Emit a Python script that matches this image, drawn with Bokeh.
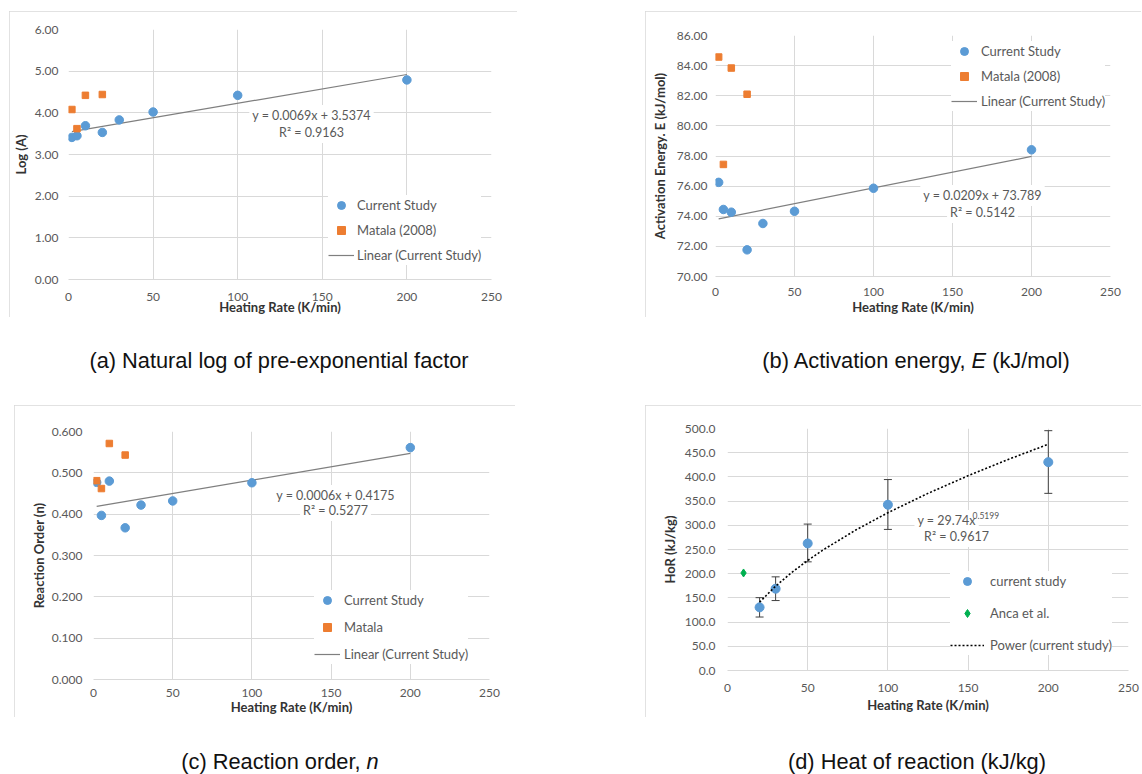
from bokeh.plotting import figure
from bokeh.models import (Range1d, FixedTicker, NumeralTickFormatter, Label, Legend, LegendItem,
                          Whisker, ColumnDataSource, TeeHead, Div, Spacer)
from bokeh.layouts import column, row
from bokeh.embed import file_html
from bokeh.resources import INLINE

# ---------------- data ----------------
x_ticks = [0, 50, 100, 150, 200, 250]

# (a) ln A
rate_cur_a = [2, 5, 10, 20, 30, 50, 100, 200]
lnA_cur = [3.41, 3.45, 3.69, 3.53, 3.83, 4.02, 4.42, 4.79]
rate_mat_a = [2, 5, 10, 20]
lnA_mat = [4.08, 3.62, 4.42, 4.44]
trend_a_x = [2, 200]
trend_a_y = [3.55, 4.92]
y_ticks_a = [0, 1, 2, 3, 4, 5, 6]

# (b) activation energy
rate_cur_b = [2, 5, 10, 20, 30, 50, 100, 200]
E_cur = [76.25, 74.45, 74.27, 71.77, 73.52, 74.33, 75.86, 78.41]
rate_mat_b = [2, 5, 10, 20]
E_mat = [84.57, 77.44, 83.84, 82.10]
trend_b_x = [2, 200]
trend_b_y = [73.83, 77.97]
y_ticks_b = [70, 72, 74, 76, 78, 80, 82, 84, 86]

# (c) reaction order
rate_cur_c = [2, 5, 10, 20, 30, 50, 100, 200]
n_cur = [0.477, 0.397, 0.480, 0.367, 0.422, 0.432, 0.476, 0.561]
rate_mat_c = [2, 5, 10, 20]
n_mat = [0.481, 0.462, 0.571, 0.543]
trend_c_x = [2, 200]
trend_c_y = [0.419, 0.547]
y_ticks_c = [0.0, 0.1, 0.2, 0.3, 0.4, 0.5, 0.6]

# (d) heat of reaction
rate_cur_d = [20, 30, 50, 100, 200]
hor_cur = [130.5, 169.0, 262.5, 342.5, 430.5]
hor_upper = [150.5, 193.5, 302.5, 394.5, 495.5]
hor_lower = [110.5, 144.5, 224.5, 291.5, 366.0]
rate_anca = [10]
hor_anca = [201.5]
power_x = [20, 30, 40, 50, 60, 80, 100, 125, 150, 175, 200]
power_y = [141.2, 174.3, 202.4, 227.3, 250.0, 290.3, 326.0, 366.0, 402.4, 436.1, 467.4]
y_ticks_d = [0, 50, 100, 150, 200, 250, 300, 350, 400, 450, 500]

# ---------------- style ----------------
BLUE = "#5B9BD5"
ORANGE = "#ED7D31"
GREEN = "#00B050"
GRID = "#D9D9D9"
TICK = "#595959"
TITLE = "#333333"
FONT = "Lato"


def base_fig(width, height, y_lo, y_hi, y_ticks, y_fmt, borders, y_title,
             y_lab_so, y_title_so, x_lab_so, x_title_so):
    ml, mr, mt, mb = borders
    p = figure(width=width, height=height, x_range=Range1d(0, 250), y_range=Range1d(y_lo, y_hi),
               output_backend="svg", toolbar_location=None,
               min_border_left=ml, min_border_right=mr, min_border_top=mt, min_border_bottom=mb,
               styles={"outline": "1px solid #D9D9D9", "outline-offset": "-1px"})
    if "frame_align" in p.properties():
        p.frame_align = False
    p.outline_line_color = None
    p.background_fill_color = "white"
    p.border_fill_color = "white"
    p.xaxis.ticker = FixedTicker(ticks=x_ticks)
    p.yaxis.ticker = FixedTicker(ticks=y_ticks)
    p.yaxis.formatter = NumeralTickFormatter(format=y_fmt)
    p.axis.major_tick_line_color = None
    p.axis.minor_tick_line_color = None
    p.axis.major_tick_out = 0
    p.axis.major_tick_in = 0
    p.axis.minor_tick_out = 0
    p.yaxis.axis_line_color = None
    p.xaxis.axis_line_color = GRID
    p.axis.major_label_text_font = FONT
    p.axis.major_label_text_font_size = "12px"
    p.axis.major_label_text_color = TICK
    p.axis.axis_label_text_font = FONT
    p.axis.axis_label_text_font_style = "bold"
    p.axis.axis_label_text_font_size = "13px"
    p.axis.axis_label_text_color = TITLE
    p.xaxis.axis_label = "Heating Rate (K/min)"
    p.yaxis.axis_label = y_title
    p.yaxis.major_label_standoff = y_lab_so
    p.yaxis.axis_label_standoff = y_title_so
    p.xaxis.major_label_standoff = x_lab_so
    p.xaxis.axis_label_standoff = x_title_so
    p.grid.grid_line_color = GRID
    p.grid.grid_line_width = 1
    return p


def add_legend(p, items, loc, glyph_w, spacing, standoff):
    lg = Legend(items=items, location=loc)
    lg.background_fill_color = "white"
    lg.background_fill_alpha = 1
    lg.border_line_color = None
    lg.label_text_font = FONT
    lg.label_text_font_size = "13px"
    lg.label_text_color = TICK
    lg.glyph_width = glyph_w
    lg.glyph_height = 20
    lg.label_height = 20
    lg.spacing = spacing
    lg.padding = 4
    lg.margin = 0
    lg.label_standoff = standoff
    p.add_layout(lg)


def add_eq(p, x, y, text, size="12.5px", align="center"):
    lab = Label(x=x, y=y, x_units="screen", y_units="screen", text=text,
                text_align=align, text_baseline="middle", text_font=FONT,
                text_font_size=size, text_color=TICK,
                background_fill_color="white", background_fill_alpha=1)
    if "padding" in lab.properties():
        lab.padding = 3
    p.add_layout(lab)


# ---------------- (a) ----------------
pa = base_fig(508, 306, 0, 6, y_ticks_a, "0.00", (58, 26, 18, 37), "Log (A)", 10, 3, 13, -5)
ra_line = pa.line(trend_a_x, trend_a_y, line_color="#7F7F7F", line_width=1.2)
ra_cur = pa.scatter(rate_cur_a, lnA_cur, marker="circle", size=8.5, fill_color=BLUE, line_color=BLUE)
ra_mat = pa.scatter(rate_mat_a, lnA_mat, marker="square", size=6.5, fill_color=ORANGE, line_color=ORANGE)
add_legend(pa, [LegendItem(label="Current Study", renderers=[ra_cur]),
                LegendItem(label="Matala (2008)", renderers=[ra_mat]),
                LegendItem(label="Linear (Current Study)", renderers=[ra_line])],
           (260, 14), 26, 5, 3)
add_eq(pa, 243, 164, "y = 0.0069x + 3.5374")
add_eq(pa, 243, 147, "R\u00b2 = 0.9163")

# ---------------- (b) ----------------
pb = base_fig(496, 306, 70, 86, y_ticks_b, "0.00", (70, 31, 24, 40),
              "Activation Energy. E (kJ/mol)", 8, 6, 11, 0)
rb_line = pb.line(trend_b_x, trend_b_y, line_color="#7F7F7F", line_width=1.2)
rb_cur = pb.scatter(rate_cur_b, E_cur, marker="circle", size=8.5, fill_color=BLUE, line_color=BLUE)
rb_mat = pb.scatter(rate_mat_b, E_mat, marker="square", size=6.5, fill_color=ORANGE, line_color=ORANGE)
add_legend(pb, [LegendItem(label="Current Study", renderers=[rb_cur]),
                LegendItem(label="Matala (2008)", renderers=[rb_mat]),
                LegendItem(label="Linear (Current Study)", renderers=[rb_line])],
           (236, 165), 26, 5, 4)
add_eq(pb, 267, 81, "y = 0.0209x + 73.789")
add_eq(pb, 267, 64, "R\u00b2 = 0.5142")

# ---------------- (c) ----------------
pc = base_fig(501, 312, 0, 0.6, y_ticks_c, "0.000", (79, 26, 26, 35),
              "Reaction Order (n)", 11, 2, 9, -1)
rc_line = pc.line(trend_c_x, trend_c_y, line_color="#7F7F7F", line_width=1.2)
rc_cur = pc.scatter(rate_cur_c, n_cur, marker="circle", size=8.5, fill_color=BLUE, line_color=BLUE)
rc_mat = pc.scatter(rate_mat_c, n_mat, marker="square", size=6.5, fill_color=ORANGE, line_color=ORANGE)
add_legend(pc, [LegendItem(label="Current Study", renderers=[rc_cur]),
                LegendItem(label="Matala", renderers=[rc_mat]),
                LegendItem(label="Linear (Current Study)", renderers=[rc_line])],
           (221, 15), 26, 7, 4)
add_eq(pc, 242, 184, "y = 0.0006x + 0.4175")
add_eq(pc, 242, 169, "R\u00b2 = 0.5277")

# ---------------- (d) ----------------
pd_ = base_fig(496, 312, 0, 500, y_ticks_d, "0.0", (82, 13, 23, 47),
               "HoR (kJ/kg)", 12, 4, 13, 2)
err_src = ColumnDataSource(dict(x=rate_cur_d, upper=hor_upper, lower=hor_lower))
pd_.add_layout(Whisker(source=err_src, base="x", upper="upper", lower="lower",
                       line_color="#404040", line_width=1, level="underlay",
                       upper_head=TeeHead(size=8, line_color="#404040", line_width=1),
                       lower_head=TeeHead(size=8, line_color="#404040", line_width=1)))
rd_cur = pd_.scatter(rate_cur_d, hor_cur, marker="circle", size=9, fill_color=BLUE, line_color=BLUE)
rd_anca = pd_.scatter(rate_anca, hor_anca, marker="diamond", size=8, fill_color=GREEN, line_color=GREEN)
rd_line = pd_.line(power_x, power_y, line_color="black", line_width=1.6, line_dash="2 2")
add_legend(pd_, [LegendItem(label="current study", renderers=[rd_cur]),
                 LegendItem(label="Anca et al.", renderers=[rd_anca]),
                 LegendItem(label="Power (current study)", renderers=[rd_line])],
           (223, 15), 34, 12, 6)
add_eq(pd_, 187, 150, "y = 29.74x", align="left")
pd_.add_layout(Label(x=245, y=155, x_units="screen", y_units="screen", text="0.5199",
                     text_align="left", text_baseline="middle", text_font=FONT,
                     text_font_size="8.5px", text_color=TICK))
add_eq(pd_, 229, 134, "R\u00b2 = 0.9617")


# ---------------- captions ----------------
def caption(html, width, height, margin_left, pad_top, line_h):
    return Div(text=('<div style="font-family:\'Liberation Sans\',Arial,sans-serif;font-size:21.8px;'
                     'color:#111;text-align:center;width:440px;margin:0 0 0 %dpx;padding:%dpx 0 0 0;'
                     'line-height:%dpx;white-space:nowrap;">%s</div>') % (margin_left, pad_top, line_h, html),
               width=width, height=height, margin=0)


cap_a = caption("(a) Natural log of pre-exponential factor", 580, 88, 59, 33, 22)
cap_b = caption("(b) Activation energy, <i>E</i> (kJ/mol)", 562, 88, 116, 33, 22)
cap_c = caption("(c) Reaction order, <i>n</i>", 580, 57, 60, 34, 22)
cap_d = caption("(d) Heat of reaction (kJ/kg)", 562, 57, 117, 34, 22)

row1 = row(Spacer(width=9, height=306), pa, Spacer(width=128, height=306), pb, spacing=0)
row2 = row(Spacer(width=14, height=312), pc, Spacer(width=130, height=312), pd_, spacing=0)

layout = column(Spacer(width=1141, height=11), row1, row(cap_a, cap_b, spacing=0),
                row2, row(cap_c, cap_d, spacing=0), spacing=0)

open("out.html", "w").write(file_html(layout, INLINE))
